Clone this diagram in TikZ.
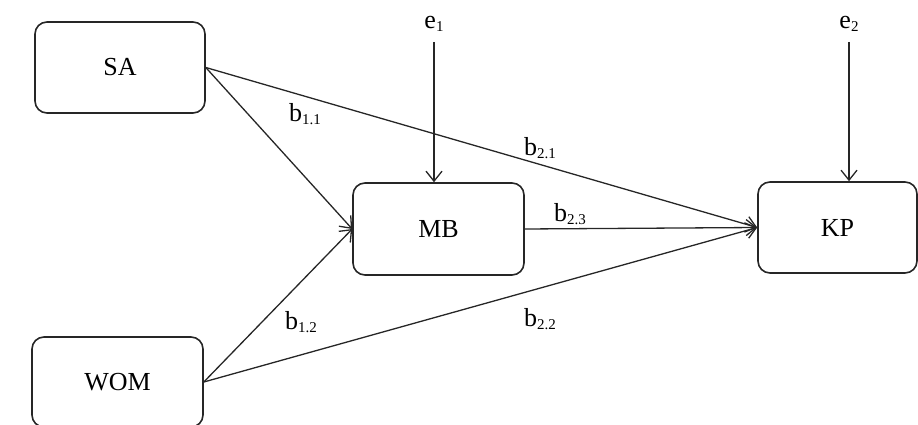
\documentclass[tikz,border=0pt]{standalone}
\usepackage{fontspec}
\setmainfont{Liberation Serif}
\usetikzlibrary{arrows.meta}
\newcommand{\sbs}[1]{\raisebox{-0.25ex}{\fontsize{15}{17}\selectfont #1}}
\begin{document}
\begin{tikzpicture}[x=1pt,y=-1pt,
  var/.style={draw=black!85, line width=1.6pt, rounded corners=12pt, inner sep=0pt, font=\fontsize{26}{30}\selectfont},
  conn/.style={draw=black!85, line width=1.3pt, -{Straight Barb[length=10pt,width=16pt,line width=1.3pt]}},
  lbl/.style={inner sep=0pt, font=\fontsize{26}{30}\selectfont}
]
\useasboundingbox (0,0) rectangle (918,425);
\node[var, minimum width=170pt, minimum height=91pt] (SA) at (120,67.5) {SA};
\node[var, minimum width=171pt, minimum height=92pt] (MB) at (438.5,229) {MB};
\node[var, minimum width=159pt, minimum height=91pt] (KP) at (837.5,227.5) {KP};
\node[var, minimum width=171pt, minimum height=90pt] (WOM) at (117.5,382) {WOM};
\node[lbl] (e1) at (434,24) {e\sbs{1}};
\node[lbl] (e2) at (849,24) {e\sbs{2}};
\coordinate (mbin) at (MB.north -| e1);
\coordinate (kpin) at (KP.north -| e2);
\coordinate (e1s) at ([yshift=-18pt]e1.center);
\coordinate (e2s) at ([yshift=-18pt]e2.center);
\draw[conn] (e1s) -- (mbin);
\draw[conn] (e2s) -- (kpin);
\draw[conn] (SA.east) -- (MB.west);
\draw[conn] (SA.east) -- (KP.west);
\draw[conn] (MB.east) -- (KP.west);
\draw[conn] (WOM.east) -- (MB.west);
\draw[conn] (WOM.east) -- (KP.west);
\node[lbl] (b11) at (305,114) {b\sbs{1.1}};
\node[lbl] (b21) at (540,148) {b\sbs{2.1}};
\node[lbl] (b23) at (570,214) {b\sbs{2.3}};
\node[lbl] (b12) at (301,322) {b\sbs{1.2}};
\node[lbl] (b22) at (540,319) {b\sbs{2.2}};
\end{tikzpicture}
\end{document}
